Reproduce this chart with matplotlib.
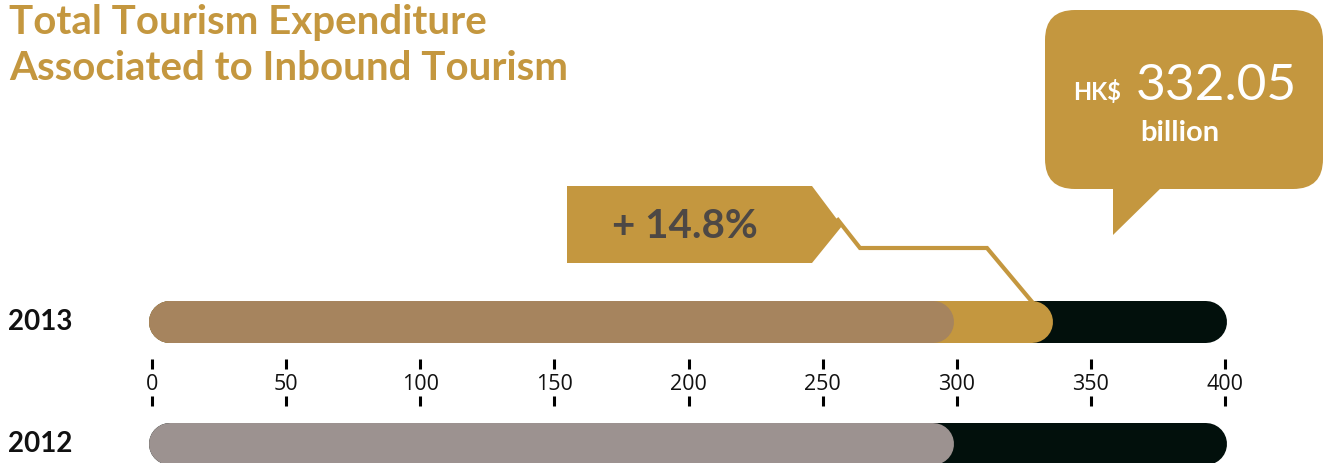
import matplotlib
matplotlib.use("Agg")
import matplotlib.pyplot as plt
from matplotlib.patches import FancyBboxPatch, Polygon

# Données
years = ["2013", "2012"]
value_2013 = 336
value_2012 = 299
axis_max = 400
ticks = [0, 50, 100, 150, 200, 250, 300, 350, 400]
total_label = "332.05"
growth_label = "+ 14.8%"

GOLD = "#C4973F"
BROWN = "#A6845E"
GREY = "#9C9290"
BLACK = "#02100C"
TEXT_GREY = "#4D4845"

W, H = 1324, 463
x0_px, x400_px = 152, 1225
k = (x400_px - x0_px) / axis_max  # pixels par unité

fig = plt.figure(figsize=(W / 100, H / 100), dpi=100)
ax = fig.add_axes([0, 0, 1, 1])
ax.set_xlim(-x0_px / k, (W - x0_px) / k)
ax.set_ylim(H, 0)
ax.axis("off")

# overlay en pixels pour les décorations
deco = fig.add_axes([0, 0, 1, 1], zorder=3)
deco.set_xlim(0, W)
deco.set_ylim(H, 0)
deco.axis("off")
deco.patch.set_alpha(0)

bar_h = 42  # px
r_u = (bar_h / 2) / k  # rayon du bout arrondi, en unités


def round_bar(x_end, yc, color, z):
    # trait épais à bouts ronds : le bout arrondi finit pile sur la valeur
    ax.plot([-1 + r_u, x_end - r_u], [yc, yc], color=color,
            lw=bar_h * 72 / 100, solid_capstyle="round", zorder=z)


y13, y12 = 322, 444
round_bar(axis_max + 0.7, y13, BLACK, 1)
round_bar(value_2013, y13, GOLD, 2)
round_bar(value_2012, y13, BROWN, 3)
round_bar(axis_max + 0.7, y12, BLACK, 1)
round_bar(value_2012, y12, GREY, 2)

# Axe
for t in ticks:
    ax.vlines(t, 359, 369, color="black", lw=2.2)
    ax.vlines(t, 396, 406, color="black", lw=2.2)
    ax.text(t, 384, str(t), ha="center", va="center", fontsize=15.5,
            family="Open Sans", color="#111111")

# Années
for yr, yc in zip(years, [y13, y12]):
    deco.text(8, yc, yr, ha="left", va="center", fontsize=20,
              fontweight="bold", family="Lato", color="#111111")

# Titre
deco.text(9, 34, "Total Tourism Expenditure", ha="left", va="baseline",
          fontsize=29, fontweight="bold", family="Lato", color=GOLD)
deco.text(9, 80, "Associated to Inbound Tourism", ha="left", va="baseline",
          fontsize=29, fontweight="bold", family="Lato", color=GOLD)

# Bulle HK$
bubble = FancyBboxPatch((1045, 10), 278, 179,
                        boxstyle="round,pad=0,rounding_size=30",
                        fc=GOLD, ec="none")
deco.add_patch(bubble)
deco.add_patch(Polygon([(1113, 185), (1164, 185), (1113, 235)],
                       closed=True, fc=GOLD, ec="none"))
deco.text(1097, 100, "HK$", ha="center", va="baseline", fontsize=17,
          fontweight="bold", family="Lato", color="white")
deco.text(1216, 100, total_label, ha="center", va="baseline", fontsize=37,
          family="Lato", color="white")
deco.text(1180, 141, "billion", ha="center", va="baseline", fontsize=21,
          family="Lato", fontweight="bold", color="white")

# Flèche + 14.8%
deco.add_patch(Polygon([(567, 186), (812, 186), (842, 226), (812, 263),
                        (567, 263)], closed=True, fc=GOLD, ec="none"))
deco.text(612, 227, growth_label, ha="left", va="center", fontsize=29,
          fontweight="bold", family="Lato", color=TEXT_GREY)
deco.plot([838, 860, 987, 1033], [220, 248, 248, 303], color=GOLD, lw=3,
          solid_joinstyle="miter")

plt.savefig("out.png", dpi=100)
plt.close()
